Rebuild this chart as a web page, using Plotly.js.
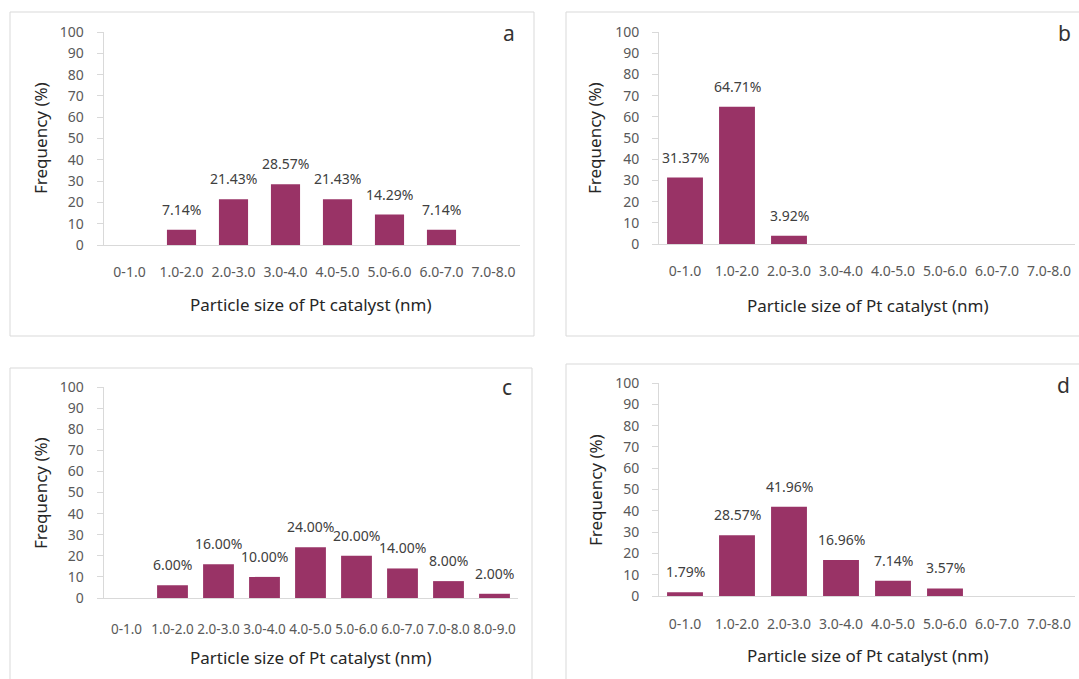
<!DOCTYPE html>
<html>
<head>
<meta charset="utf-8">
<script src="https://cdn.plot.ly/plotly-3.0.1.min.js"></script>
<style>
html,body{margin:0;padding:0;background:#fff;}
#chart{width:1079px;height:679px;}
</style>
</head>
<body>
<div id="chart"></div>
<script>
// ---- Data ----
const categories8 = ['0-1.0','1.0-2.0','2.0-3.0','3.0-4.0','4.0-5.0','5.0-6.0','6.0-7.0','7.0-8.0'];
const categories9 = ['0-1.0','1.0-2.0','2.0-3.0','3.0-4.0','4.0-5.0','5.0-6.0','6.0-7.0','7.0-8.0','8.0-9.0'];
const valuesA = [null, 7.14, 21.43, 28.57, 21.43, 14.29, 7.14, null];
const valuesB = [31.37, 64.71, 3.92, null, null, null, null, null];
const valuesC = [null, 6.00, 16.00, 10.00, 24.00, 20.00, 14.00, 8.00, 2.00];
const valuesD = [1.79, 28.57, 41.96, 16.96, 7.14, 3.57, null, null];
const panelLetters = ['a', 'b', 'c', 'd'];
const yTickVals = [0,10,20,30,40,50,60,70,80,90,100];
const xTitleText = 'Particle size of Pt catalyst (nm)';
const yTitleText = 'Frequency (%)';

// ---- Layout helpers ----
const W = 1079, H = 679;
const fx = p => p / W;
const fy = p => 1 - p / H;
const FONT = 'Noto Sans, Open Sans, sans-serif';
const BAR = 'rgb(153,51,102)';
const LINE = '#d9d9d9';

const panels = [
  {cats: categories8, vals: valuesA, w: 0.56, x0: 103.5, x1: 519.5, yTop: 32, yBot: 245,
   box: [10, 12, 534, 336], xt: [311, 304], yt: [41, 138], lt: [509, 33], tf: 14, so: 14},
  {cats: categories8, vals: valuesB, w: 0.69, x0: 659, x1: 1075, yTop: 32, yBot: 244,
   box: [566, 12, 1090, 336], xt: [868, 305], yt: [595, 138], lt: [1064, 33], tf: 14, so: 14},
  {cats: categories9, vals: valuesC, w: 0.67, x0: 103.5, x1: 517.5, yTop: 387, yBot: 598,
   box: [10, 368, 532, 700], xt: [311, 657], yt: [40, 493], lt: [507, 387], tf: 13.5, so: 19},
  {cats: categories8, vals: valuesD, w: 0.69, x0: 659, x1: 1075, yTop: 383, yBot: 596,
   box: [566, 364, 1090, 700], xt: [868, 655], yt: [595, 490], lt: [1063, 385], tf: 14, so: 15}
];

const traces = [];
const layout = {
  width: W, height: H,
  margin: {l: 0, r: 0, t: 0, b: 0},
  paper_bgcolor: '#fff', plot_bgcolor: '#fff',
  showlegend: false,
  font: {family: FONT, color: '#595959', size: 14},
  shapes: [], annotations: []
};

panels.forEach((p, i) => {
  const n = i === 0 ? '' : String(i + 1);
  const xa = 'xaxis' + n, ya = 'yaxis' + n;
  const xr = 'x' + n, yr = 'y' + n;
  traces.push({
    type: 'bar', x: p.cats, y: p.vals, xaxis: xr, yaxis: yr,
    width: p.w, marker: {color: BAR, line: {width: 0}},
    hoverinfo: 'x+y'
  });
  layout[xa] = {
    domain: [fx(p.x0), fx(p.x1)], anchor: yr, type: 'category',
    range: [-0.5, p.cats.length - 0.5], fixedrange: true,
    showline: true, linecolor: LINE, linewidth: 1,
    ticks: '', showgrid: false, zeroline: false, tickangle: 0,
    tickfont: {family: FONT, size: p.tf, color: '#595959'},
    ticklabelstandoff: p.so
  };
  layout[ya] = {
    domain: [fy(p.yBot), fy(p.yTop)], anchor: xr,
    range: [0, 100], tickvals: yTickVals, fixedrange: true,
    showline: true, linecolor: LINE, linewidth: 1,
    ticks: 'outside', ticklen: 6, tickcolor: LINE,
    showgrid: false, zeroline: false,
    tickfont: {family: FONT, size: 14, color: '#595959'},
    ticklabelstandoff: 10
  };
  // panel border
  layout.shapes.push({
    type: 'rect', xref: 'paper', yref: 'paper',
    x0: fx(p.box[0]), x1: fx(p.box[2]), y0: fy(p.box[3]), y1: fy(p.box[1]),
    line: {color: LINE, width: 1}, fillcolor: 'rgba(0,0,0,0)', layer: 'below'
  });
  // data labels
  p.vals.forEach((v, k) => {
    if (v === null) return;
    layout.annotations.push({
      xref: xr, yref: yr, x: p.cats[k], y: v, text: v.toFixed(2) + '%',
      showarrow: false, yanchor: 'bottom', yshift: 9,
      font: {family: FONT, size: 14, color: '#404040'}
    });
  });
  // axis titles
  layout.annotations.push({
    xref: 'paper', yref: 'paper', x: fx(p.xt[0]), y: fy(p.xt[1]),
    text: xTitleText, showarrow: false, xanchor: 'center', yanchor: 'middle',
    font: {family: FONT, size: 17, color: '#262626'}
  });
  layout.annotations.push({
    xref: 'paper', yref: 'paper', x: fx(p.yt[0]), y: fy(p.yt[1]),
    text: yTitleText, showarrow: false, xanchor: 'center', yanchor: 'middle', textangle: -90,
    font: {family: FONT, size: 17, color: '#262626'}
  });
  // panel letter
  layout.annotations.push({
    xref: 'paper', yref: 'paper', x: fx(p.lt[0]), y: fy(p.lt[1]),
    text: panelLetters[i], showarrow: false, xanchor: 'center', yanchor: 'middle',
    font: {family: FONT, size: 21, color: '#333333'}
  });
});

Plotly.newPlot('chart', traces, layout, {displayModeBar: false, staticPlot: true});
</script>
</body>
</html>
